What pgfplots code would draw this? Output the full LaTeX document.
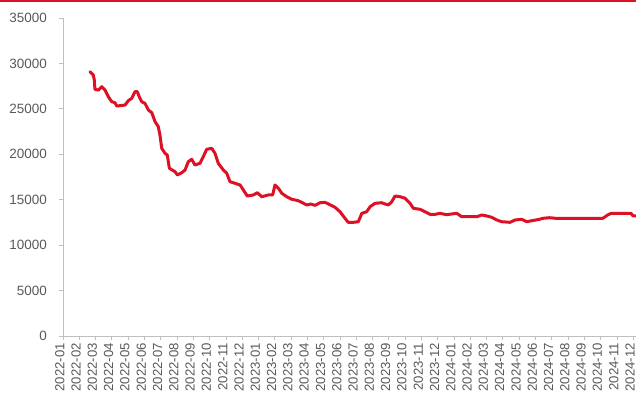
\documentclass[border=0pt]{standalone}
\usepackage{pgfplots}
\pgfplotsset{compat=1.18}
\usepackage{fontspec}
\setmainfont{Liberation Sans}

\definecolor{lineRed}{RGB}{222,16,38}
\definecolor{labelGray}{RGB}{89,89,89}
\definecolor{axisGray}{RGB}{191,191,191}

% price series; x = months since 2022-01
\pgfplotstableread{
x      y
1.66   29090
1.86   28730
1.92   28180
1.96   27150
2.17   27070
2.38   27440
2.58   27070
2.78   26340
2.99   25790
3.19   25680
3.30   25310
3.81   25420
4.01   25900
4.22   26160
4.42   26890
4.56   26890
4.68   26340
4.83   25790
5.03   25610
5.24   24870
5.45   24580
5.65   23590
5.85   23040
5.95   22120
6.06   20660
6.26   20110
6.40   19920
6.53   18460
6.88   18080
7.02   17720
7.29   17970
7.49   18270
7.69   19180
7.90   19450
8.10   18820
8.41   19010
8.61   19730
8.82   20550
9.13   20660
9.33   20110
9.53   19010
9.84   18270
10.05  17910
10.25  16980
10.56  16810
10.87  16620
11.07  16070
11.31  15410
11.68  15520
11.93  15770
12.20  15330
12.60  15520
12.87  15520
13.01  16620
13.22  16260
13.43  15710
13.73  15330
14.04  15050
14.44  14890
14.65  14710
14.96  14420
15.21  14530
15.47  14380
15.78  14670
16.08  14710
16.39  14450
16.70  14160
17.00  13680
17.31  12950
17.51  12510
17.82  12510
18.13  12580
18.34  13500
18.64  13680
18.85  14230
19.15  14600
19.56  14670
19.77  14530
19.97  14420
20.18  14780
20.38  15410
20.69  15330
21.00  15160
21.30  14600
21.51  14050
21.92  13940
22.22  13680
22.53  13390
22.84  13390
23.14  13500
23.55  13350
23.86  13430
24.17  13500
24.47  13130
25.40  13130
25.70  13320
26.01  13210
26.32  13060
26.62  12770
26.93  12580
27.44  12510
27.75  12770
28.16  12840
28.46  12580
28.77  12690
29.24  12840
29.45  12950
29.85  13020
30.26  12950
33.13  12950
33.43  13320
33.64  13500
34.87  13500
34.97  13240
35.17  13210
}\pricedata

\begin{document}
\begin{tikzpicture}
\begin{axis}[
  scale only axis,
  width=573bp, height=318bp,
  xmin=0, xmax=35.17,
  ymin=0, ymax=35000,
  axis x line*=bottom,
  axis y line*=left,
  axis line style={axisGray, line width=0.8bp},
  every tick/.style={axisGray, line width=0.8bp},
  tick align=outside,
  major tick length=4bp,
  xtick={0,...,35},
  xticklabels={2022-01,2022-02,2022-03,2022-04,2022-05,2022-06,2022-07,2022-08,2022-09,2022-10,2022-11,2022-12,
               2023-01,2023-02,2023-03,2023-04,2023-05,2023-06,2023-07,2023-08,2023-09,2023-10,2023-11,2023-12,
               2024-01,2024-02,2024-03,2024-04,2024-05,2024-06,2024-07,2024-08,2024-09,2024-10,2024-11,2024-12},
  ytick={0,5000,...,35000},
  scaled y ticks=false,
  /pgf/number format/set thousands separator={},
  /pgf/number format/assume math mode=true,
  tick label style={font=\fontsize{13.5}{16}\selectfont, text=labelGray},
  xticklabel style={font=\fontsize{13.2}{16}\selectfont, anchor=east, inner sep=0pt, xshift=-3.2bp, yshift=-3bp, rotate=90},
  yticklabel style={anchor=east, inner sep=0pt, xshift=-12bp},
  clip=false,
]
\addplot[lineRed, line width=3bp, line join=round, line cap=round] table[x=x, y=y] {\pricedata};
\end{axis}
\pgfresetboundingbox
\path[use as bounding box] ([xshift=-63bp, yshift=-61bp]current axis.south west)
  rectangle ([yshift=18bp]current axis.north east);
\draw[lineRed, line width=1.6bp] ([xshift=-63bp, yshift=17.2bp]current axis.north west) -- ([yshift=17.2bp]current axis.north east);
\end{tikzpicture}
\end{document}
